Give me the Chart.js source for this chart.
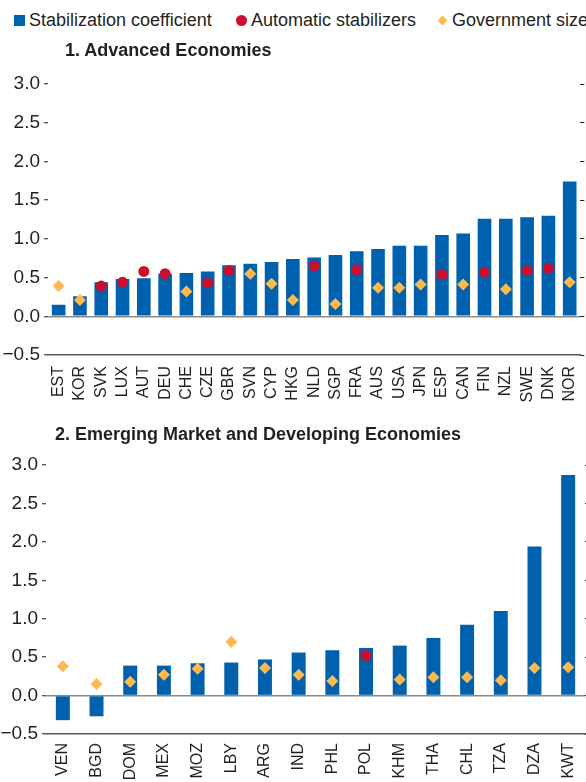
<!DOCTYPE html>
<html>
<head>
<meta charset="utf-8">
<script src="https://cdn.jsdelivr.net/npm/chart.js@4.4.0/dist/chart.umd.min.js"></script>
<style>
  html, body { margin: 0; padding: 0; background: #fff; overflow: hidden; }
  body { width: 586px; height: 782px; position: relative; font-family: "Liberation Sans", Arial, sans-serif; color: #231f20; }
  .painel { position: absolute; left: 0; width: 600px; }
  .titulo { position: absolute; font-weight: bold; font-size: 18px; white-space: nowrap; z-index: 2; }
  .item { position: absolute; top: 10px; display: flex; align-items: center; font-size: 18px; white-space: nowrap; line-height: 21px; }
  .marca { display: inline-block; margin-right: 4px; }
  .quadrado { width: 11px; height: 11px; background: #0061ae; }
  .circulo { width: 11px; height: 11px; border-radius: 50%; background: #c8102e; }
  .losango { width: 7px; height: 7px; background: #fdb94e; transform: rotate(45deg); margin: 0 6px 0 2px; }
</style>
</head>
<body>
<div class="item" style="left:14px;"><span class="marca quadrado"></span>Stabilization coefficient</div>
<div class="item" style="left:236px;"><span class="marca circulo"></span>Automatic stabilizers</div>
<div class="item" style="left:437px;"><span class="marca losango"></span>Government size</div>
<div class="titulo" style="left:65px; top:40px;">1. Advanced Economies</div>
<div class="painel" style="top:60px; height:343px;"><canvas id="chartAE"></canvas></div>
<div class="titulo" style="left:55px; top:424px;">2. Emerging Market and Developing Economies</div>
<div class="painel" style="top:441px; height:341px;"><canvas id="chartEM"></canvas></div>
<script>
// Economias avançadas
const aeLabels = ["EST", "KOR", "SVK", "LUX", "AUT", "DEU", "CHE", "CZE", "GBR", "SVN", "CYP", "HKG", "NLD",
  "SGP", "FRA", "AUS", "USA", "JPN", "ESP", "CAN", "FIN", "NZL", "SWE", "DNK", "NOR"];
const aeCoefficient = [0.15, 0.26, 0.44, 0.48, 0.49, 0.55, 0.56, 0.58, 0.66, 0.68, 0.70, 0.74, 0.76,
  0.79, 0.84, 0.87, 0.91, 0.91, 1.05, 1.07, 1.26, 1.26, 1.28, 1.30, 1.74];
const aeAutomatic = [null, null, 0.39, 0.44, 0.58, 0.55, null, 0.43, 0.59, null, null, null, 0.65,
  null, 0.60, null, null, null, 0.54, null, 0.57, null, 0.59, 0.62, null];
const aeGovernment = [0.39, 0.21, null, null, null, null, 0.32, null, null, 0.55, 0.42, 0.21, null,
  0.16, null, 0.37, 0.37, 0.41, null, 0.41, null, 0.35, null, null, 0.44];

// Economias emergentes e em desenvolvimento
const emLabels = ["VEN", "BGD", "DOM", "MEX", "MOZ", "LBY", "ARG", "IND", "PHL", "POL", "KHM", "THA",
  "CHL", "TZA", "DZA", "KWT"];
const emCoefficient = [-0.32, -0.27, 0.39, 0.39, 0.42, 0.43, 0.47, 0.56, 0.59, 0.62, 0.65, 0.75,
  0.92, 1.10, 1.94, 2.87];
const emAutomatic = [null, null, null, null, null, null, null, null, null, 0.52, null, null,
  null, null, null, null];
const emGovernment = [0.38, 0.15, 0.18, 0.27, 0.35, 0.70, 0.36, 0.27, 0.19, null, 0.21, 0.24,
  0.24, 0.20, 0.36, 0.37];

const yTicks = [-0.5, 0, 0.5, 1, 1.5, 2, 2.5, 3];

Chart.defaults.font.family = "'Liberation Sans', Arial, sans-serif";
Chart.defaults.color = "#231f20";

// Função para gerar um painel (barras + pontos)
function generatePanel(canvasId, labels, coefficient, automatic, government, barPct, yWidth, padRight, labelPad) {
  const ctx = document.getElementById(canvasId).getContext("2d");
  return new Chart(ctx, {
    type: "bar",
    data: {
      labels: labels,
      datasets: [
        {
          label: "Stabilization coefficient",
          data: coefficient,
          backgroundColor: "#0061ae",
          barPercentage: barPct,
          categoryPercentage: 1,
          order: 3,
        },
        {
          type: "line",
          label: "Automatic stabilizers",
          data: automatic,
          showLine: false,
          pointStyle: "circle",
          pointRadius: 5.5,
          pointBackgroundColor: "#c8102e",
          pointBorderWidth: 0,
          order: 1,
        },
        {
          type: "line",
          label: "Government size",
          data: government,
          showLine: false,
          pointStyle: "rectRot",
          pointRadius: 6,
          pointBackgroundColor: "#fdb94e",
          pointBorderWidth: 0,
          order: 2,
        },
      ],
    },
    options: {
      responsive: true,
      maintainAspectRatio: false,
      animation: false,
      layout: { padding: { top: 24, right: padRight, left: 0, bottom: 0 } },
      plugins: {
        legend: { display: false },
        tooltip: { enabled: false },
      },
      scales: {
        x: {
          grid: { display: false, drawTicks: false },
          border: { display: true, color: "#58595b", width: 1.5 },
          ticks: { minRotation: 90, maxRotation: 90, autoSkip: false, padding: labelPad, font: { size: 16 } },
          afterFit: (scale) => { scale.height = 48; },
        },
        y: {
          min: -0.5,
          max: 3,
          afterBuildTicks: (scale) => { scale.ticks = yTicks.map((v) => ({ value: v })); },
          ticks: {
            padding: 4,
            font: { size: 19 },
            callback: (v) => (v < 0 ? "\u2212" : "") + Math.abs(v).toFixed(1),
          },
          grid: {
            color: (c) => (c.tick && c.tick.value === 0 ? "#8a8a8a" : "rgba(0,0,0,0)"),
            lineWidth: 1.5,
            tickColor: "#231f20",
            tickLength: 4,
            tickWidth: 1,
          },
          border: { display: false },
          afterFit: (scale) => { scale.width = yWidth; },
        },
        y2: {
          position: "right",
          min: -0.5,
          max: 3,
          afterBuildTicks: (scale) => { scale.ticks = yTicks.map((v) => ({ value: v })); },
          ticks: { display: false },
          grid: { drawOnChartArea: false, tickColor: "#231f20", tickLength: 4 },
          border: { display: false },
          afterFit: (scale) => { scale.width = 4; },
        },
      },
    },
  });
}

generatePanel("chartAE", aeLabels, aeCoefficient, aeAutomatic, aeGovernment, 0.64, 48, 0, 11);
generatePanel("chartEM", emLabels, emCoefficient, emAutomatic, emGovernment, 0.415, 46, 11, 9);
</script>
</body>
</html>
